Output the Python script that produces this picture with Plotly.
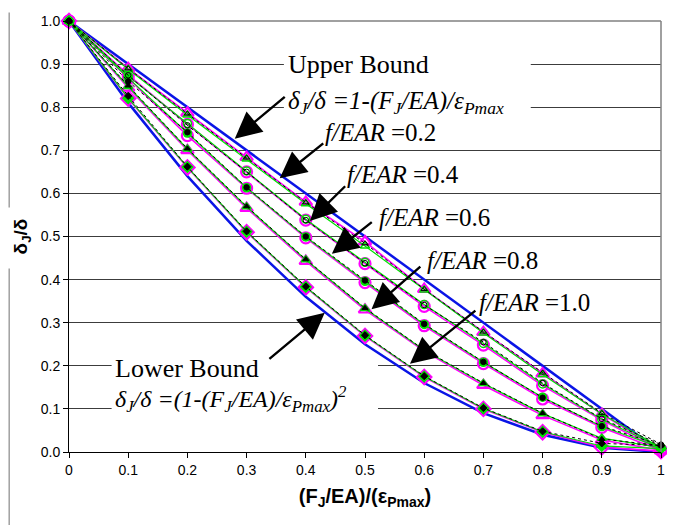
import plotly.graph_objects as go

# ---------------- data ----------------
x_vals = [0.0, 0.1, 0.2, 0.3, 0.4, 0.5, 0.6, 0.7, 0.8, 0.9, 1.0]
upper_bound = [1.0, 0.9, 0.8, 0.7, 0.6, 0.5, 0.4, 0.3, 0.2, 0.1, 0.0]
lower_bound = [1.0, 0.81, 0.64, 0.49, 0.36, 0.25, 0.16, 0.09, 0.04, 0.01, 0.0]

labels = ["0.2", "0.4", "0.6", "0.8", "1.0"]

# magenta series (solid magenta line, open magenta markers)
mag_02 = [1.0, 0.890, 0.787, 0.684, 0.580, 0.488, 0.378, 0.278, 0.182, 0.088, 0.004]
mag_04 = [1.0, 0.875, 0.760, 0.650, 0.538, 0.437, 0.338, 0.248, 0.154, 0.074, 0.004]
mag_06 = [1.0, 0.866, 0.734, 0.612, 0.497, 0.393, 0.293, 0.205, 0.123, 0.057, 0.004]
mag_08 = [1.0, 0.845, 0.700, 0.566, 0.443, 0.330, 0.234, 0.155, 0.085, 0.028, 0.004]
mag_10 = [1.0, 0.820, 0.660, 0.510, 0.382, 0.269, 0.174, 0.100, 0.046, 0.011, 0.002]

# green series (solid green line, green markers)
grn_02 = [1.0, 0.888, 0.782, 0.680, 0.576, 0.478, 0.376, 0.276, 0.180, 0.088, 0.010]
grn_04 = [1.0, 0.872, 0.762, 0.652, 0.540, 0.440, 0.342, 0.252, 0.158, 0.076, 0.010]
grn_06 = [1.0, 0.868, 0.740, 0.613, 0.499, 0.396, 0.296, 0.208, 0.127, 0.059, 0.010]
grn_08 = [1.0, 0.848, 0.703, 0.569, 0.446, 0.333, 0.236, 0.159, 0.089, 0.032, 0.010]
grn_10 = [1.0, 0.821, 0.661, 0.511, 0.383, 0.270, 0.175, 0.101, 0.047, 0.014, 0.008]

# black series (dotted black line, small black markers)
blk_02 = [1.0, 0.890, 0.785, 0.683, 0.579, 0.484, 0.378, 0.279, 0.184, 0.090, 0.018]
blk_04 = [1.0, 0.874, 0.758, 0.650, 0.538, 0.438, 0.341, 0.255, 0.160, 0.077, 0.017]
blk_06 = [1.0, 0.860, 0.742, 0.614, 0.500, 0.398, 0.297, 0.209, 0.126, 0.060, 0.016]
blk_08 = [1.0, 0.850, 0.704, 0.570, 0.447, 0.334, 0.237, 0.160, 0.090, 0.030, 0.015]
blk_10 = [1.0, 0.826, 0.662, 0.512, 0.384, 0.271, 0.176, 0.102, 0.048, 0.020, 0.015]

x_tickvals = [0, 0.1, 0.2, 0.3, 0.4, 0.5, 0.6, 0.7, 0.8, 0.9, 1.0]
x_ticktext = ["0", "0.1", "0.2", "0.3", "0.4", "0.5", "0.6", "0.7", "0.8", "0.9", "1"]
y_tickvals = [0.0, 0.1, 0.2, 0.3, 0.4, 0.5, 0.6, 0.7, 0.8, 0.9, 1.0]
y_ticktext = ["0.0", "0.1", "0.2", "0.3", "0.4", "0.5", "0.6", "0.7", "0.8", "0.9", "1.0"]

mag_series = [mag_02, mag_04, mag_06, mag_08, mag_10]
grn_series = [grn_02, grn_04, grn_06, grn_08, grn_10]
blk_series = [blk_02, blk_04, blk_06, blk_08, blk_10]

# ---------------- styles ----------------
mag_symbols = ["triangle-up-open", "circle-open", "circle-open", "triangle-up-open", "diamond-open"]
grn_symbols = ["triangle-up-open", "circle-open", "circle", "triangle-up", "diamond"]
blk_symbols = ["triangle-up-open", "circle-open", "circle", "triangle-up", "diamond"]

MAG = "#ff00ff"
GRN = "#00e000"
BLUE = "#0a14e6"
SERIF = "Liberation Serif, Times New Roman, serif"
SANS = "Liberation Sans, Arial, sans-serif"

fig = go.Figure()

fig.add_trace(go.Scatter(x=x_vals, y=upper_bound, mode="lines",
                         line=dict(color=BLUE, width=2.5), cliponaxis=False,
                         showlegend=False, hoverinfo="skip"))
fig.add_trace(go.Scatter(x=x_vals, y=lower_bound, mode="lines",
                         line=dict(color=BLUE, width=2.5), cliponaxis=False,
                         showlegend=False, hoverinfo="skip"))

for i, ys in enumerate(mag_series):
    fig.add_trace(go.Scatter(x=x_vals, y=ys, mode="lines+markers",
                             line=dict(color=MAG, width=1.6),
                             marker=dict(symbol=mag_symbols[i], size=11, color=MAG,
                                         line=dict(color=MAG, width=2.2)),
                             cliponaxis=False, showlegend=False, name="f/EAR=" + labels[i]))
for i, ys in enumerate(grn_series):
    fig.add_trace(go.Scatter(x=x_vals, y=ys, mode="lines+markers",
                             line=dict(color=GRN, width=1.2),
                             marker=dict(symbol=grn_symbols[i], size=8, color=GRN,
                                         line=dict(color=GRN, width=1.5)),
                             cliponaxis=False, showlegend=False, name="f/EAR=" + labels[i]))
for i, ys in enumerate(blk_series):
    fig.add_trace(go.Scatter(x=x_vals, y=ys, mode="lines+markers",
                             line=dict(color="black", width=1, dash="dot"),
                             marker=dict(symbol=blk_symbols[i], size=5.5, color="black",
                                         line=dict(color="black", width=1)),
                             cliponaxis=False, showlegend=False, name="f/EAR=" + labels[i]))

# white boxes behind the bound labels (hide gridlines)
fig.add_shape(type="rect", xref="x", yref="y", x0=0.363, x1=0.780, y0=0.768, y1=0.939,
              fillcolor="white", line=dict(width=0), layer="between")
fig.add_shape(type="rect", xref="x", yref="y", x0=0.072, x1=0.522, y0=0.072, y1=0.259,
              fillcolor="white", line=dict(width=0), layer="between")

# fragments of neighbouring figure at left edge
fig.add_shape(type="line", xref="paper", yref="paper", x0=-0.101, x1=-0.101, y0=1.02, y1=0.567,
              line=dict(color="#a0a0a0", width=1.5))
fig.add_shape(type="line", xref="paper", yref="paper", x0=-0.101, x1=-0.101, y0=0.426, y1=-0.17,
              line=dict(color="#a0a0a0", width=1.5))

# arrows: (tip_x, tip_y, tail_x, tail_y)
arrows = [
    (0.280, 0.727, 0.367, 0.827),
    (0.356, 0.635, 0.432, 0.719),
    (0.407, 0.536, 0.469, 0.620),
    (0.444, 0.460, 0.514, 0.536),
    (0.511, 0.331, 0.596, 0.433),
    (0.576, 0.205, 0.689, 0.331),
    (0.432, 0.323, 0.336, 0.213),
]
for tx, ty, sx, sy in arrows:
    fig.add_annotation(x=tx, y=ty, ax=sx, ay=sy, axref="x", ayref="y", xref="x", yref="y",
                       text="", showarrow=True, arrowhead=2, arrowsize=2.2,
                       arrowwidth=2.4, arrowcolor="black", standoff=0, startstandoff=0)

# text labels: (x, y, text, size)
texts = [
    (0.366, 0.898, "Upper Bound", 26),
    (0.366, 0.812, "<i>δ<sub>J</sub>/δ =1-(F<sub>J</sub>/EA)/ε<sub>Pmax</sub></i>", 25),
    (0.429, 0.741, "<i>f/EAR</i> =0.2", 25),
    (0.466, 0.643, "<i>f/EAR</i> =0.4", 25),
    (0.520, 0.544, "<i>f/EAR</i> =0.6", 25),
    (0.601, 0.445, "<i>f/EAR</i> =0.8", 25),
    (0.689, 0.346, "<i>f/EAR</i> =1.0", 25),
    (0.074, 0.193, "Lower Bound", 26),
    (0.074, 0.123, "<i>δ<sub>J</sub>/δ =(1-(F<sub>J</sub>/EA)/ε<sub>Pmax</sub>)<sup>2</sup></i>", 24),
]
for tx, ty, tt, sz in texts:
    fig.add_annotation(x=tx, y=ty, xref="x", yref="y", text=tt, showarrow=False,
                       xanchor="left", yanchor="middle",
                       font=dict(family=SERIF, size=sz, color="black"))

# page body has an 8px margin, so the figure is sized/margined to compensate
fig.update_layout(
    width=667, height=517,
    margin=dict(l=61, r=14, t=5, b=73),
    paper_bgcolor="white", plot_bgcolor="white",
    showlegend=False,
    font=dict(family=SANS, color="black"),
    xaxis=dict(range=[0, 1], tickvals=x_tickvals, ticktext=x_ticktext,
               showgrid=False, zeroline=False, showline=True, linecolor="black", linewidth=1,
               ticks="outside", ticklen=5, tickcolor="black",
               tickfont=dict(family=SANS, size=14), ticklabeloverflow="allow",
               title=dict(text="<b>(F<sub>J</sub>/EA)/(ε<sub>Pmax</sub>)</b>",
                          font=dict(family=SANS, size=20), standoff=12)),
    yaxis=dict(range=[0, 1.0], tickvals=y_tickvals, ticktext=y_ticktext,
               showgrid=True, gridcolor="#3c3c3c", gridwidth=1,
               zeroline=False, showline=True, linecolor="black", linewidth=1,
               ticks="outside", ticklen=5, tickcolor="black",
               tickfont=dict(family=SANS, size=14), ticklabeloverflow="allow",
               title=dict(text="<b>δ<sub>J</sub>/δ</b>", font=dict(family=SANS, size=19),
                          standoff=8)),
)

# light grey frame on top and right
fig.add_shape(type="line", xref="paper", yref="paper", x0=1, x1=1, y0=0, y1=1,
              line=dict(color="#808080", width=1.5))
fig.add_shape(type="line", xref="paper", yref="paper", x0=0, x1=1, y0=1, y1=1,
              line=dict(color="#808080", width=1.5), layer="below")

fig.write_html("out.html")
